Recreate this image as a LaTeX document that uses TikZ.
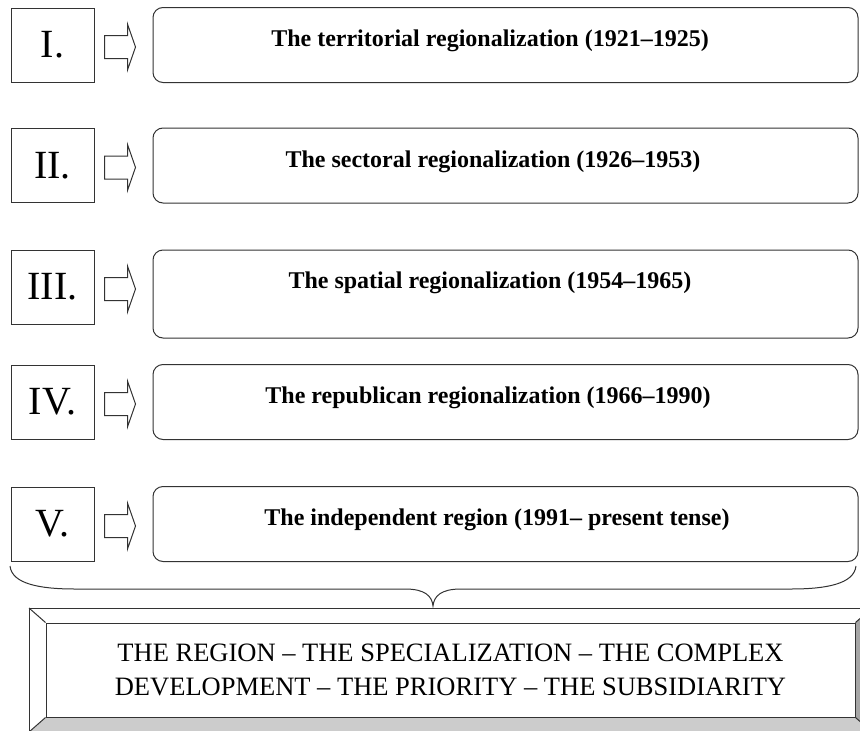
\documentclass[tikz,border=0pt]{standalone}
\usepackage{fontspec}
\setmainfont{Liberation Serif}
\usetikzlibrary{positioning}

\begin{document}
\begin{tikzpicture}[x=1pt,y=-1pt,line width=1pt,node distance=58pt,
    numeral/.style={draw=black!80,minimum width=83pt,minimum height=74pt,inner sep=0pt,
      font=\fontsize{40}{44}\selectfont},
    period/.style={draw=black!80,rounded corners=10pt,minimum width=705pt,minimum height=75pt,inner sep=0pt},
    periodtext/.style={inner sep=0pt,font=\fontsize{24}{28}\selectfont\bfseries},
    blockarrow/.style={draw=black!80,line join=miter}]
        \useasboundingbox (0,0) rectangle (860,731);
        \clip (0,0) rectangle (860,731);

        \node[numeral] (n1) at (52.5,45) {I.};
        \node[numeral] (n2) at (52.5,165.5) {II.};
        \node[numeral] (n3) at (52.5,287) {III.};
        \node[numeral] (n4) at (52.5,402) {IV.};
        \node[numeral] (n5) at (52.5,524) {V.};

        \node[period] (p1) [right=of n1] {};
        \node[period] (p2) [right=of n2] {};
        \node[period, minimum height=88pt, yshift=-7pt] (p3) [right=of n3] {};
        \node[period] (p4) [right=of n4] {};
        \node[period] (p5) [right=of n5] {};

        \node[periodtext] (t1) at (490,41) {The territorial regionalization (1921--1925)};
        \node[periodtext] (t2) at (493,161.5) {The sectoral regionalization (1926--1953)};
        \node[periodtext] (t3) at (490,283) {The spatial regionalization (1954--1965)};
        \node[periodtext] (t4) at (488,398) {The republican regionalization (1966--1990)};
        \node[periodtext] (t5) at (497,520) {The independent region (1991-- present tense)};

        \foreach \n in {1,...,5}
          \draw[blockarrow] ([xshift=10pt,yshift=-2pt]n\n.east) ++(0,-11.5) -- ++(23,0) -- ++(0,-11.5)
            -- ++(8,23) -- ++(-8,23) -- ++(0,-11.5) -- ++(-23,0) -- cycle;

        % brace under the periods
        \draw[black!80] (10,566) .. controls (12,584) and (40,589) .. (75,589) -- (405,589)
          .. controls (425,589) and (432,596) .. (433,606) .. controls (434,596) and (441,589) .. (461,589)
          -- (791,589) .. controls (826,589) and (854,584) .. (856,566);

        % bevelled box
        \fill[black!20] (29,732) -- (46,717) -- (855,717) -- (872,732) -- cycle;
        \fill[black!35] (855,623) -- (872,608) -- (872,732) -- (855,717) -- cycle;
        \draw[black!80] (29,608) rectangle (872,732);
        \node[draw=black!80, minimum width=809pt, minimum height=94pt, align=center, inner sep=0pt,
          font=\fontsize{26.5}{34}\selectfont] (summary) at (450.5,670)
          {THE REGION -- THE SPECIALIZATION -- THE COMPLEX\\
           DEVELOPMENT -- THE PRIORITY -- THE SUBSIDIARITY};
        \draw[black!80] (29,608) -- (summary.north west);
        \draw[black!80] (872,608) -- (summary.north east);
        \draw[black!80] (29,732) -- (summary.south west);
        \draw[black!80] (872,732) -- (summary.south east);
\end{tikzpicture}
\end{document}
